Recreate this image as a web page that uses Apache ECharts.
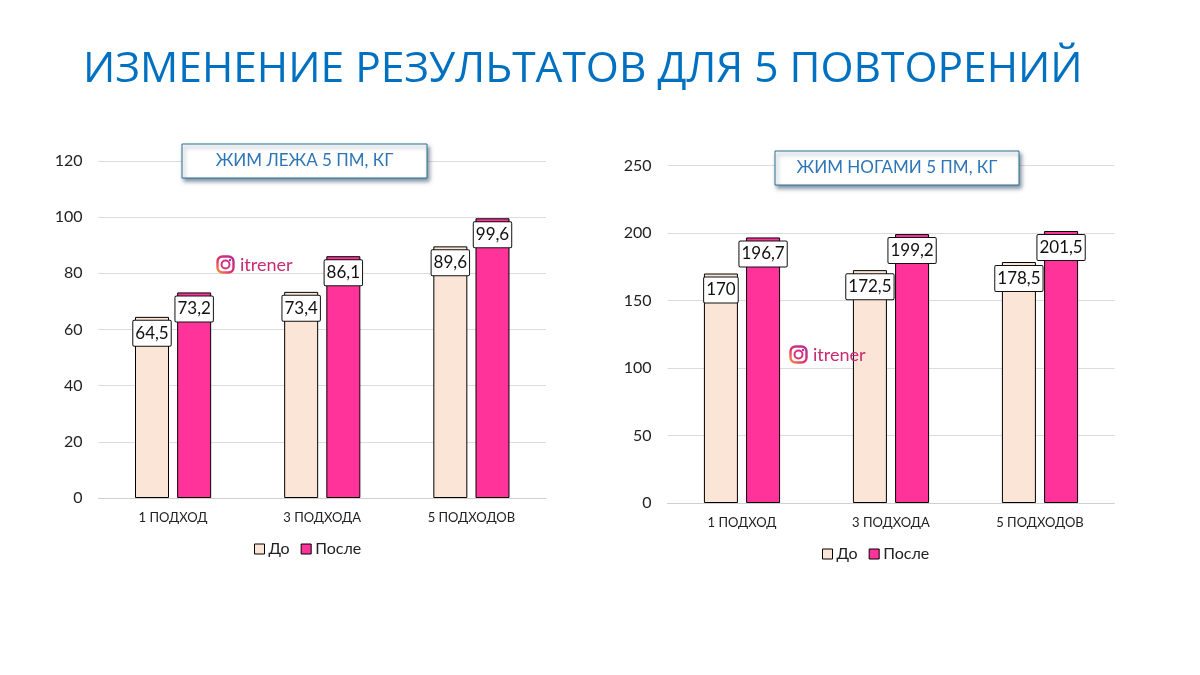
<!DOCTYPE html>
<html><head><meta charset="utf-8">
<style>html,body{margin:0;padding:0;background:#fff}#c{width:1200px;height:675px}</style>
<script src="https://cdn.jsdelivr.net/npm/echarts@6/dist/echarts.min.js"></script>
</head><body><div id="c"></div>
<script>
const categories = ['1 ПОДХОД', '3 ПОДХОДА', '5 ПОДХОДОВ'];
const seriesNames = ['До', 'После'];
const benchBefore = [64.5, 73.4, 89.6];
const benchAfter = [73.2, 86.1, 99.6];
const legBefore = [170, 172.5, 178.5];
const legAfter = [196.7, 199.2, 201.5];
const mainTitle = 'ИЗМЕНЕНИЕ РЕЗУЛЬТАТОВ ДЛЯ 5 ПОВТОРЕНИЙ';
const benchTitle = 'ЖИМ ЛЕЖА 5 ПМ, КГ';
const legTitle = 'ЖИМ НОГАМИ 5 ПМ, КГ';
const watermark = 'itrener';

const FONT = 'Lato, "Open Sans", sans-serif';
const colors = ['#FBE5D6', '#FF3399'];

function barSeries(name, data, idx, color) {
  return {
    name, type: 'bar', data, xAxisIndex: idx, yAxisIndex: idx,
    barWidth: 34, barGap: '24%',
    itemStyle: { color, borderColor: '#000', borderWidth: 1 },
    label: {
      show: true, position: 'insideTop', distance: 4,
      formatter: p => String(p.value).replace('.', ','),
      fontFamily: FONT, fontSize: 17, color: '#111',
      backgroundColor: '#fff', borderColor: '#111', borderWidth: 1, borderRadius: 1,
      padding: [4, 2, 4, 2]
    }
  };
}
function xAxis(gridIndex) {
  return {
    type: 'category', gridIndex, data: categories,
    axisLine: { lineStyle: { color: '#d0d0d0' } }, axisTick: { show: false },
    axisLabel: { fontFamily: FONT, fontSize: 13, color: '#222', margin: 13 }
  };
}
function yAxis(gridIndex, max, interval) {
  return {
    type: 'value', gridIndex, min: 0, max, interval,
    axisLine: { show: false }, axisTick: { show: false },
    splitLine: { lineStyle: { color: '#dcdcdc' } },
    axisLabel: { fontFamily: FONT, fontSize: 16, color: '#222', margin: 16 }
  };
}
function boxedTitle(text, left, top, width) {
  return {
    type: 'group', children: [
      { type: 'rect', z: 50, shape: { x: left, y: top, width, height: 34 },
        style: { fill: '#fff', stroke: '#31708f', lineWidth: 1,
          shadowBlur: 4, shadowOffsetX: 2, shadowOffsetY: 3, shadowColor: 'rgba(40,70,100,0.6)' } },
      { type: 'text', z: 51, x: left + width / 2, y: top + 17,
        style: { text, fill: '#2E75B6', font: '17px ' + FONT, align: 'center', verticalAlign: 'middle' } }
    ]
  };
}
function brand(left, top) {
  return {
    type: 'group', x: left, y: top, children: [
      { type: 'rect', z: 60, shape: { x: 1.5, y: 1.5, width: 16, height: 16, r: 5 },
        style: { fill: 'none', lineWidth: 2.4, stroke: new echarts.graphic.LinearGradient(0, 1, 1, 0, [
          { offset: 0, color: '#F9B234' }, { offset: 0.45, color: '#E1306C' }, { offset: 1, color: '#A030A8' }]) } },
      { type: 'circle', z: 60, shape: { cx: 9.5, cy: 9.5, r: 4 }, style: { fill: 'none', stroke: '#D62F80', lineWidth: 2 } },
      { type: 'circle', z: 60, shape: { cx: 14, cy: 5, r: 1.2 }, style: { fill: '#B5309A' } },
      { type: 'text', z: 60, x: 24, y: 10, style: { text: watermark, fill: '#C92A72', font: '18px ' + FONT, verticalAlign: 'middle' } }
    ]
  };
}
function legendAt(left, top) {
  return {
    data: seriesNames, left, top, icon: 'rect', itemWidth: 10, itemHeight: 10, itemGap: 11,
    itemStyle: { borderColor: '#000', borderWidth: 1 },
    textStyle: { fontFamily: FONT, fontSize: 16, color: '#222', padding: [0, 0, 0, -1] }
  };
}

const chart = echarts.init(document.getElementById('c'), null, { renderer: 'canvas' });
chart.setOption({
  animation: false,
  backgroundColor: '#fff',
  title: {
    text: mainTitle, left: 78, top: 43,
    textStyle: { fontFamily: '"Open Sans", sans-serif', fontSize: 42.5, fontWeight: 'normal', color: '#0070C0' }
  },
  grid: [
    { left: 98.5, right: 654, top: 161, height: 337 },
    { left: 667.5, right: 85.5, top: 165.5, height: 337.5 }
  ],
  xAxis: [xAxis(0), xAxis(1)],
  yAxis: [yAxis(0, 120, 20), yAxis(1, 250, 50)],
  legend: [legendAt(249, 536), legendAt(817, 541)],
  series: [
    barSeries(seriesNames[0], benchBefore, 0, colors[0]),
    barSeries(seriesNames[1], benchAfter, 0, colors[1]),
    barSeries(seriesNames[0], legBefore, 1, colors[0]),
    barSeries(seriesNames[1], legAfter, 1, colors[1])
  ],
  graphic: [
    boxedTitle(benchTitle, 182, 144, 245),
    boxedTitle(legTitle, 775, 151, 244),
    brand(216, 255),
    brand(789, 345)
  ]
});
</script></body></html>
